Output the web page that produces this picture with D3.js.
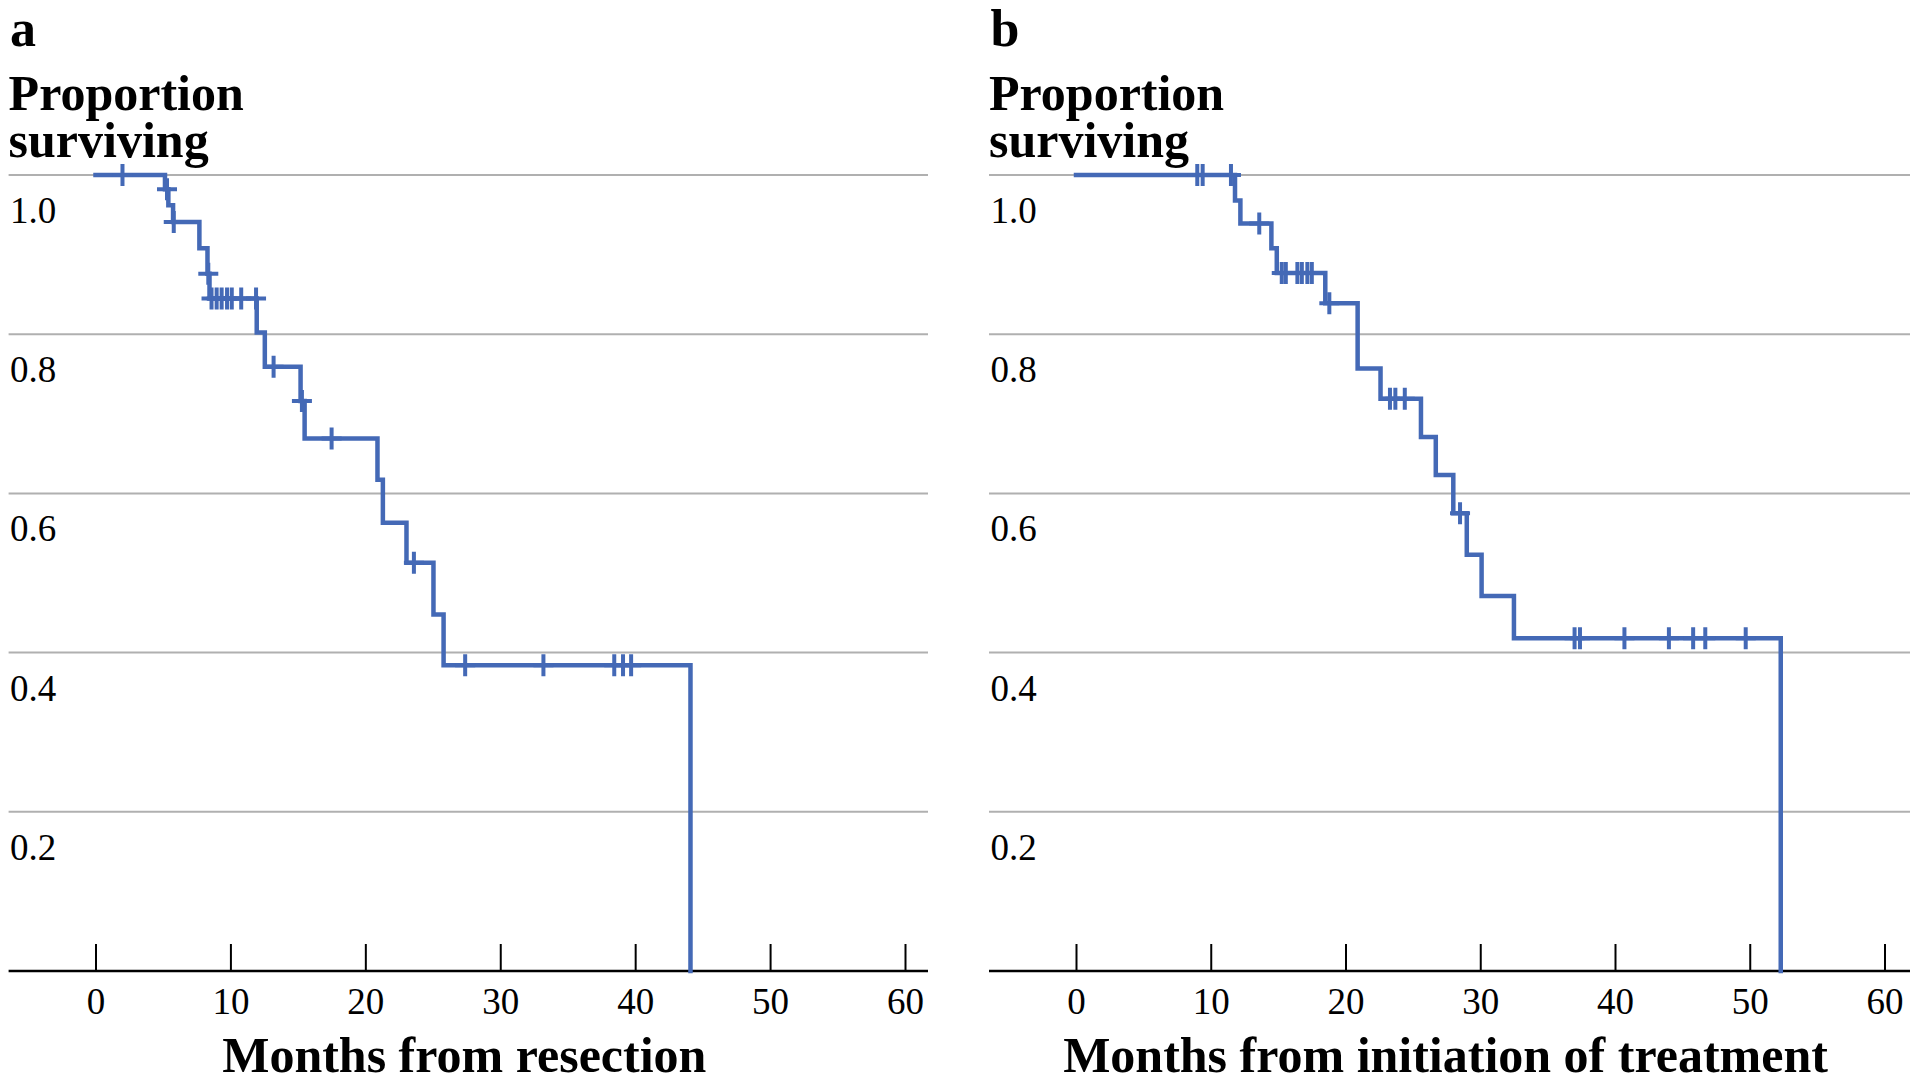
<!DOCTYPE html>
<html>
<head>
<meta charset="utf-8">
<script src="https://cdn.jsdelivr.net/npm/d3@7"></script>
<style>
  html, body { margin: 0; padding: 0; background: #ffffff; }
  svg { display: block; }
  text { font-family: "Liberation Serif", "Times New Roman", serif; fill: #000; }
</style>
</head>
<body>
<script>
// ---------- data ----------
const xTickValues = [0, 10, 20, 30, 40, 50, 60];
const yTickValues = [1.0, 0.8, 0.6, 0.4, 0.2];
const panelLetters = ["a", "b"];
const yTitleLines = ["Proportion", "surviving"];
const xTitles = ["Months from resection", "Months from initiation of treatment"];

// Panel a: Kaplan-Meier step drops (time in months, survival after drop)
const aEventTimes = [5.15, 5.4, 5.75, 7.7, 8.3, 8.45, 11.95, 12.55, 15.2, 15.5, 20.9, 21.3, 23.05, 25.05, 25.8, 44.1];
const aSurvival   = [0.982, 0.962, 0.941, 0.908, 0.876, 0.845, 0.802, 0.759, 0.716, 0.669, 0.617, 0.563, 0.513, 0.448, 0.384, 0];
const aCensorTimes = [2.0, 5.3, 5.8, 8.36, 8.6, 8.98, 9.35, 9.75, 10.1, 10.8, 11.9, 13.2, 15.3, 17.5, 23.6, 27.4, 33.2, 38.45, 39.1, 39.7];

// Panel b
const bEventTimes = [11.8, 12.2, 14.5, 14.9, 18.5, 20.9, 22.6, 25.6, 26.7, 28.0, 29.0, 30.1, 32.5, 52.3];
const bSurvival   = [0.968, 0.939, 0.908, 0.877, 0.839, 0.757, 0.719, 0.671, 0.623, 0.575, 0.523, 0.471, 0.418, 0];
const bCensorTimes = [9.0, 9.4, 11.5, 13.6, 15.27, 15.57, 16.43, 16.76, 17.17, 17.5, 18.8, 23.3, 23.7, 24.4, 28.5, 37.0, 37.4, 40.7, 44.0, 45.8, 46.7, 49.7];

// ---------- layout ----------
const W = 1920, H = 1084;
const lineColor = "#4469b6";
const gridColor = "#b0b0b0";

const panels = [
  { letter: panelLetters[0], title: xTitles[0], events: aEventTimes, surv: aSurvival, cens: aCensorTimes,
    left: 8.6, right: 928, r0: 95.5, r1: 905 },
  { letter: panelLetters[1], title: xTitles[1], events: bEventTimes, surv: bSurvival, cens: bCensorTimes,
    left: 989, right: 1910, r0: 1076, r1: 1884.5 }
];

const svg = d3.select("body").append("svg").attr("width", W).attr("height", H);
const y = d3.scaleLinear().domain([0, 1]).range([971, 175]);

panels.forEach(p => {
  const g = svg.append("g");
  const x = d3.scaleLinear().domain([0, 60]).range([p.r0, p.r1]);

  // gridlines + y labels
  yTickValues.forEach(v => {
    g.append("line")
      .attr("x1", p.left).attr("x2", p.right)
      .attr("y1", y(v)).attr("y2", y(v))
      .attr("stroke", gridColor).attr("stroke-width", 2);
    g.append("text")
      .attr("x", p.left + 1.5).attr("y", y(v) + 48)
      .attr("font-size", 37)
      .text(d3.format(".1f")(v));
  });

  // x axis
  const ax = g.append("g").attr("transform", `translate(0,${y(0)})`)
    .call(d3.axisBottom(x).tickValues(xTickValues).tickSizeInner(-27).tickSizeOuter(0).tickFormat(d3.format("d")));
  ax.select(".domain").remove();
  ax.selectAll(".tick line").attr("stroke", "#000").attr("stroke-width", 2);
  ax.selectAll(".tick text")
    .attr("y", 43).attr("dy", 0)
    .attr("font-size", 37)
    .attr("font-family", "Liberation Serif, Times New Roman, serif")
    .attr("fill", "#000");
  g.append("line")
    .attr("x1", p.left).attr("x2", p.right)
    .attr("y1", y(0)).attr("y2", y(0))
    .attr("stroke", "#000").attr("stroke-width", 2.5);

  // KM curve
  const pts = [[0, 1]].concat(p.events.map((t, i) => [t, p.surv[i]]));
  const line = d3.line().x(d => x(d[0])).y(d => y(d[1])).curve(d3.curveStepAfter);
  g.append("path").attr("d", line(pts))
    .attr("fill", "none").attr("stroke", lineColor).attr("stroke-width", 4.5)
    .attr("stroke-linejoin", "miter").attr("stroke-linecap", "square");

  // censor marks
  const survAt = t => { let s = 1; p.events.forEach((e, i) => { if (e <= t) s = p.surv[i]; }); return s; };
  p.cens.forEach(t => {
    const cx = x(t), cy = y(survAt(t));
    g.append("path")
      .attr("d", `M${cx - 10},${cy}H${cx + 10}M${cx},${cy - 11}V${cy + 11}`)
      .attr("stroke", lineColor).attr("stroke-width", 4).attr("fill", "none");
  });

  // titles
  g.append("text").attr("x", p.left + 1.5).attr("y", 46)
    .attr("font-size", 52).attr("font-weight", "bold").text(p.letter);
  const yt = g.append("text").attr("x", p.left).attr("y", 110)
    .attr("font-size", 50).attr("font-weight", "bold");
  yTitleLines.forEach((s, i) => {
    yt.append("tspan").attr("x", p.left).attr("y", 110 + i * 47).text(s);
  });
  g.append("text").attr("x", (p.left + p.right) / 2 - 4).attr("y", 1072)
    .attr("text-anchor", "middle")
    .attr("font-size", 50).attr("font-weight", "bold").text(p.title);
});
</script>
</body>
</html>
